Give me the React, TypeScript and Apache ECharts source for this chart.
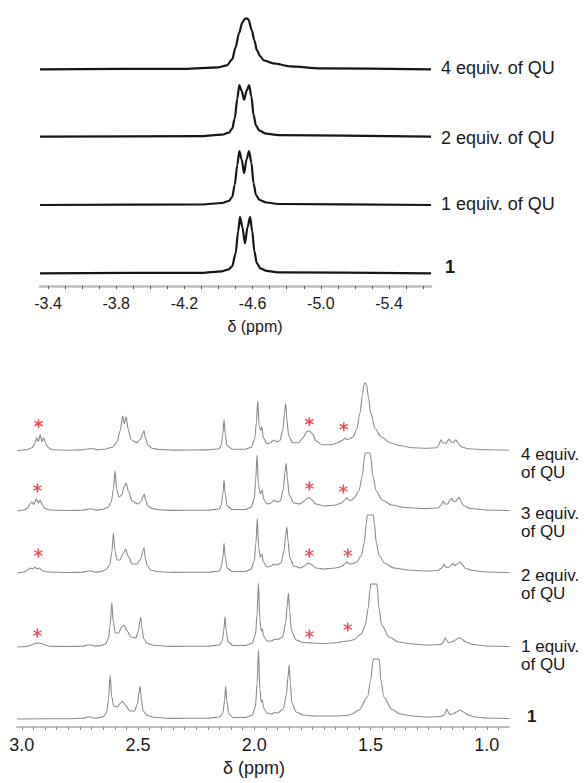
import React, { useEffect, useRef } from "react";
import * as echarts from "echarts";

// ---------- data ----------
const topTickLabels = [-3.4, -3.8, -4.2, -4.6, -5.0, -5.4];
const topMinorTicks = [-3.4, -3.5, -3.6, -3.7, -3.8, -3.9, -4.0, -4.1, -4.2, -4.3, -4.4, -4.5, -4.6, -4.7, -4.8, -4.9, -5.0, -5.1, -5.2, -5.3, -5.4, -5.5, -5.6];
const bottomTickLabels = [3.0, 2.5, 2.0, 1.5, 1.0];

const topTraceNames = ["1", "1 equiv. of QU", "2 equiv. of QU", "4 equiv. of QU"];
const bottomTraceNames = ["1", "1 equiv.\nof QU", "2 equiv.\nof QU", "3 equiv.\nof QU", "4 equiv.\nof QU"];

// top panel spectra: [ppm, intensity]
const topCmpd1 = [[-3.353,0],[-4.3,0.5],[-4.42,2],[-4.46,4],[-4.48,7],[-4.50,20],[-4.515,42],[-4.526,56.5],[-4.54,46],[-4.555,30],[-4.57,46],[-4.585,56.5],[-4.598,42],[-4.61,22],[-4.625,10],[-4.645,5],[-4.68,2.5],[-4.75,1],[-5.646,0]];
const topEq1 = [[-3.353,0],[-4.3,0.5],[-4.42,2],[-4.46,4],[-4.48,8],[-4.495,20],[-4.51,40],[-4.522,54],[-4.535,46],[-4.55,32],[-4.565,46],[-4.579,54],[-4.593,42],[-4.605,22],[-4.62,10],[-4.64,5],[-4.68,2.5],[-4.75,1],[-5.646,0]];
const topEq2 = [[-3.353,0],[-4.3,0.5],[-4.42,2],[-4.46,4],[-4.48,8],[-4.495,18],[-4.51,38],[-4.522,51.5],[-4.535,46],[-4.55,37],[-4.565,46],[-4.579,51.5],[-4.593,40],[-4.605,22],[-4.62,11],[-4.64,6],[-4.68,3],[-4.75,1.5],[-5.646,0]];
const topEq4 = [[-3.353,0],[-4.2,0.5],[-4.40,2],[-4.45,4],[-4.48,10],[-4.50,22],[-4.52,36],[-4.54,47],[-4.555,50.5],[-4.565,51],[-4.575,50],[-4.595,39],[-4.61,29],[-4.625,19],[-4.645,13],[-4.665,9],[-4.72,6],[-4.82,3],[-5.0,1],[-5.646,0]];

// bottom panel spectra: [ppm, intensity]
const botCmpd1 = [[3.02,0],[2.80,0.3],[2.74,0.8],[2.715,2],[2.705,2],[2.69,0.8],[2.66,1.5],[2.645,3],[2.635,7],[2.627,20],[2.620,44],[2.613,22],[2.605,13],[2.59,12],[2.575,16],[2.567,17.7],[2.555,14],[2.535,8],[2.515,8],[2.503,15],[2.496,26],[2.491,32.7],[2.486,20],[2.478,8],[2.46,3.5],[2.43,1.5],[2.35,0.6],[2.20,0.8],[2.15,2],[2.135,6],[2.128,18],[2.123,32.7],[2.118,18],[2.11,5],[2.09,1.5],[2.04,1.5],[2.01,3.5],[1.995,12],[1.988,35],[1.982,69],[1.976,30],[1.970,17],[1.965,19],[1.960,11],[1.945,6],[1.925,5],[1.912,6.5],[1.90,6],[1.875,10],[1.862,24],[1.855,42],[1.850,54],[1.845,36],[1.838,16],[1.82,7],[1.79,4],[1.74,3],[1.66,3],[1.60,3.5],[1.581,5],[1.55,9],[1.513,22],[1.499,39],[1.49,57],[1.487,60],[1.464,60],[1.461,57],[1.456,39],[1.442,22],[1.41,10],[1.373,5],[1.32,3],[1.25,2],[1.20,2.5],[1.182,4],[1.175,8],[1.172,10],[1.168,8],[1.16,4.5],[1.145,5],[1.13,7],[1.115,9],[1.10,7],[1.08,4],[1.05,2],[1.0,1],[0.903,0.5]];
const botEq1 = [[3.02,0],[2.98,0.5],[2.96,2],[2.945,3.5],[2.93,4],[2.915,3.5],[2.90,2],[2.88,0.8],[2.80,0.5],[2.74,0.8],[2.715,2],[2.70,2],[2.685,0.8],[2.66,1.5],[2.64,3],[2.628,8],[2.620,22],[2.613,44.3],[2.606,24],[2.598,14],[2.585,14],[2.570,20],[2.560,22],[2.550,17],[2.53,10],[2.51,9],[2.498,16],[2.493,25],[2.488,29.7],[2.483,18],[2.475,8],[2.46,3.5],[2.43,1.5],[2.35,0.6],[2.20,0.8],[2.15,2],[2.138,6],[2.131,17],[2.126,30.3],[2.121,17],[2.113,5],[2.09,1.5],[2.04,1.5],[2.01,3.5],[1.995,12],[1.988,33],[1.982,63.7],[1.976,28],[1.970,16],[1.965,18],[1.960,11],[1.945,6],[1.925,6],[1.912,8],[1.90,7.5],[1.878,10],[1.865,24],[1.858,42],[1.853,53.7],[1.848,36],[1.840,16],[1.82,7],[1.79,4.5],[1.77,4.3],[1.75,4],[1.70,3.5],[1.64,4.5],[1.615,5.5],[1.60,6],[1.59,6],[1.57,7.5],[1.54,13],[1.522,22],[1.51,39],[1.502,58],[1.499,63],[1.473,63],[1.470,58],[1.464,39],[1.452,22],[1.42,10],[1.38,5],[1.32,3],[1.25,2],[1.20,2.5],[1.188,4],[1.182,7.5],[1.179,9.3],[1.175,7.5],[1.165,4.5],[1.15,5],[1.135,7],[1.12,9.3],[1.108,8],[1.09,5],[1.06,2.5],[1.0,1],[0.903,0.5]];
const botEq2 = [[3.02,0],[2.99,1],[2.975,3],[2.963,5],[2.953,4],[2.944,6],[2.935,4],[2.925,5],[2.912,2.5],[2.89,1],[2.80,0.5],[2.74,0.8],[2.715,2],[2.70,2],[2.685,0.8],[2.66,1.5],[2.64,3],[2.622,8],[2.613,20],[2.606,40],[2.599,22],[2.59,13],[2.578,13],[2.565,19],[2.553,23.7],[2.543,17],[2.525,9],[2.505,9],[2.488,14],[2.479,22],[2.474,25.3],[2.469,15],[2.46,7],[2.445,3],[2.42,1.5],[2.35,0.6],[2.20,0.8],[2.15,2],[2.142,6],[2.135,16],[2.130,29.7],[2.125,16],[2.117,5],[2.095,1.5],[2.04,1.5],[2.015,3.5],[2.0,12],[1.993,30],[1.987,54.7],[1.981,25],[1.974,16],[1.967,19],[1.961,11],[1.945,6],[1.928,7],[1.915,9],[1.903,8],[1.885,10],[1.872,22],[1.865,38],[1.860,46],[1.855,32],[1.847,15],[1.83,7],[1.80,5],[1.785,7],[1.772,9.5],[1.763,9.7],[1.752,8],[1.735,5],[1.70,4],[1.65,5],[1.625,6.5],[1.61,9],[1.602,11.3],[1.595,9.5],[1.58,9],[1.56,11],[1.54,17],[1.527,30],[1.518,50],[1.514,58],[1.488,58],[1.484,50],[1.475,30],[1.462,17],[1.44,10],[1.40,5],[1.34,3],[1.26,2],[1.21,2.5],[1.193,5],[1.186,8],[1.184,9],[1.178,6],[1.165,5.5],[1.152,8],[1.146,9.7],[1.138,7.5],[1.125,9],[1.115,11.3],[1.105,8],[1.09,4.5],[1.06,2.5],[1.0,1],[0.903,0.5]];
const botEq3 = [[3.02,0],[2.99,1],[2.975,3],[2.965,7],[2.957,9],[2.948,6.5],[2.938,12],[2.929,8],[2.921,11],[2.912,6],[2.90,2.5],[2.88,1],[2.80,0.5],[2.74,0.8],[2.712,2],[2.695,2],[2.68,0.8],[2.655,1.5],[2.63,3.5],[2.615,9],[2.606,22],[2.599,40],[2.592,22],[2.582,14],[2.57,16],[2.56,24],[2.551,28],[2.542,20],[2.525,10],[2.50,7],[2.485,10],[2.478,15],[2.473,16.7],[2.468,11],[2.458,5],[2.44,2.5],[2.41,1.2],[2.35,0.6],[2.20,0.8],[2.15,2],[2.142,6],[2.135,17],[2.130,31],[2.125,17],[2.117,5],[2.095,1.5],[2.04,1.5],[2.015,3.5],[2.0,12],[1.994,31],[1.988,56],[1.982,26],[1.974,17],[1.966,21],[1.960,12],[1.945,7],[1.928,8],[1.915,11],[1.903,9],[1.888,10],[1.875,22],[1.868,39],[1.863,47.7],[1.858,33],[1.85,16],[1.83,8],[1.805,7],[1.785,10],[1.772,13],[1.763,13.3],[1.752,11],[1.735,7],[1.70,5],[1.65,6],[1.625,8],[1.61,11],[1.602,13.3],[1.595,11],[1.585,10.5],[1.57,13],[1.55,20],[1.535,35],[1.527,52],[1.523,58],[1.502,58],[1.498,52],[1.49,35],[1.475,20],[1.45,11],[1.41,6],[1.35,3.5],[1.27,2.5],[1.21,3],[1.196,6],[1.19,9],[1.187,10],[1.18,7],[1.168,7],[1.157,11],[1.151,12.7],[1.144,9.5],[1.132,10],[1.124,12.5],[1.119,13.7],[1.112,10],[1.10,5.5],[1.07,2.5],[1.0,1],[0.903,0.5]];
const botEq4 = [[3.02,0],[2.98,1],[2.955,3],[2.945,7],[2.936,13],[2.929,9],[2.921,16],[2.913,9],[2.906,13],[2.898,7],[2.885,3],[2.87,1],[2.80,0.5],[2.74,0.8],[2.71,2],[2.69,2],[2.675,0.8],[2.645,1.5],[2.61,3.5],[2.59,9],[2.577,20],[2.566,34.7],[2.559,27],[2.551,34],[2.543,22],[2.53,11],[2.505,8],[2.488,12],[2.479,18],[2.474,20],[2.469,13],[2.458,6],[2.44,2.5],[2.41,1.2],[2.35,0.6],[2.20,0.8],[2.15,2],[2.142,6],[2.135,17],[2.130,30.7],[2.125,17],[2.117,5],[2.095,1.5],[2.04,1.5],[2.012,3.5],[1.998,12],[1.991,28],[1.985,50],[1.979,25],[1.972,20],[1.967,24],[1.961,13],[1.945,7],[1.93,8],[1.917,10.7],[1.905,9],[1.89,10],[1.877,21],[1.870,38],[1.865,47],[1.860,32],[1.852,15],[1.835,8],[1.81,8],[1.79,13],[1.775,19],[1.763,20],[1.75,17],[1.735,10],[1.71,6],[1.67,6],[1.64,8],[1.62,10.5],[1.609,12.7],[1.60,11],[1.59,12],[1.575,14],[1.56,21],[1.545,37.7],[1.535,56],[1.528,66],[1.523,68],[1.517,66],[1.508,52],[1.499,37.7],[1.48,22],[1.455,14],[1.416,8],[1.37,5],[1.32,3],[1.26,2.5],[1.215,3],[1.205,6],[1.2,9.5],[1.197,11],[1.19,8],[1.175,7.5],[1.166,10.5],[1.161,11.7],[1.153,8.5],[1.142,8.5],[1.136,10.5],[1.132,11],[1.125,8],[1.11,4],[1.08,2],[1.0,1],[0.903,0.5]];

// asterisk marks: [ppm, height above the trace baseline], per bottom trace (1 equiv .. 4 equiv)
const starsEq1 = [[2.933,14],[1.763,13],[1.598,20]];
const starsEq2 = [[2.929,20],[1.763,20],[1.598,20]];
const starsEq3 = [[2.933,23],[1.763,25],[1.617,22]];
const starsEq4 = [[2.928,27],[1.763,29],[1.615,24]];

// ---------- layout ----------
const topTraces = [topCmpd1, topEq1, topEq2, topEq4];
const topOffsets = [12.7, 81, 149.3, 216.7];
const topLabelPos = [[445, 267], [441, 204], [441, 137.5], [441, 67.5]];
const bottomTraces = [botCmpd1, botEq1, botEq2, botEq3, botEq4];
const bottomOffsets = [8, 80, 154, 216, 276.3];
const bottomLabelPos = [[527, 716], [521, 655], [521, 584], [521, 522.5], [521, 463.3]];
const starSets = [null, starsEq1, starsEq2, starsEq3, starsEq4];

const FONT = "'Liberation Sans', Arial, sans-serif";
const STAR =
  "path://M42 0 L58 0 L58 100 L42 100 Z M2.7 31.93 L10.7 18.07 L97.3 68.07 L89.3 81.93 Z M89.3 18.07 L97.3 31.93 L10.7 81.93 L2.7 68.07 Z";

export default function App() {
  const ref = useRef<HTMLDivElement>(null);
  useEffect(() => {
    if (!ref.current) return;
    const chart = echarts.init(ref.current, null, { renderer: "svg" });

    const bottomMinor: number[] = [];
    for (let i = 0; i <= 42; i++) bottomMinor.push(Math.round((3.0 - i * 0.05) * 100) / 100);

    const series: any[] = [];
    topTraces.forEach((t, i) => {
      series.push({
        type: "line",
        xAxisIndex: 0,
        yAxisIndex: 0,
        data: t.map(([x, y]) => [x, y + topOffsets[i]]),
        showSymbol: false,
        symbol: "none",
        smooth: 0.3,
        smoothMonotone: "x",
        lineStyle: { color: "#161616", width: 2.2 },
        silent: true,
      });
    });
    bottomTraces.forEach((t, i) => {
      series.push({
        type: "line",
        xAxisIndex: 1,
        yAxisIndex: 1,
        data: t.map(([x, y]) => [x, y + bottomOffsets[i]]),
        showSymbol: false,
        symbol: "none",
        smooth: 0.3,
        smoothMonotone: "x",
        lineStyle: { color: "#8a8a8a", width: 1.1 },
        silent: true,
      });
      const st = starSets[i];
      if (st) {
        series.push({
          type: "scatter",
          xAxisIndex: 1,
          yAxisIndex: 1,
          data: st.map(([x, y]) => [x, y + bottomOffsets[i]]),
          symbol: STAR,
          symbolSize: 9,
          itemStyle: { color: "#e3212b" },
          silent: true,
        });
      }
    });

    const graphics: any[] = [];
    topTraceNames.forEach((n, i) => {
      graphics.push({
        type: "text",
        x: topLabelPos[i][0],
        y: topLabelPos[i][1],
        style: {
          text: n,
          fill: "#1a1a1a",
          fontSize: 18,
          fontFamily: FONT,
          fontWeight: n === "1" ? "bold" : "normal",
          align: "left",
          verticalAlign: "middle",
        },
      });
    });
    bottomTraceNames.forEach((n, i) => {
      graphics.push({
        type: "text",
        x: bottomLabelPos[i][0],
        y: bottomLabelPos[i][1],
        style: {
          text: n,
          fill: "#1a1a1a",
          fontSize: 17,
          lineHeight: 18,
          fontFamily: FONT,
          fontWeight: n === "1" ? "bold" : "normal",
          align: "left",
          verticalAlign: "middle",
        },
      });
    });
    graphics.push({
      type: "text",
      x: 255,
      y: 326,
      style: { text: "δ (ppm)", fill: "#1a1a1a", fontSize: 16, fontFamily: FONT, align: "center", verticalAlign: "middle" },
    });
    graphics.push({
      type: "text",
      x: 254,
      y: 768,
      style: { text: "δ (ppm)", fill: "#1a1a1a", fontSize: 18, fontFamily: FONT, align: "center", verticalAlign: "middle" },
    });

    chart.setOption({
      animation: false,
      backgroundColor: "#ffffff",
      grid: [
        { left: 40, right: 155, top: 6, bottom: 497, outerBoundsMode: "none" },
        { left: 16.7, right: 76.7, top: 370, bottom: 56, outerBoundsMode: "none" },
      ],
      xAxis: [
        {
          type: "value",
          gridIndex: 0,
          min: -5.646,
          max: -3.353,
          inverse: true,
          splitLine: { show: false },
          axisLine: { lineStyle: { color: "#bdbdbd", width: 2.5 } },
          axisTick: { customValues: topMinorTicks, length: 3, lineStyle: { color: "#555", width: 1 } },
          axisLabel: {
            customValues: topTickLabels,
            formatter: (v: number) => v.toFixed(1),
            color: "#1a1a1a",
            fontSize: 16,
            fontFamily: FONT,
            margin: 9,
          },
        },
        {
          type: "value",
          gridIndex: 1,
          min: 0.903,
          max: 3.022,
          inverse: true,
          splitLine: { show: false },
          axisLine: { lineStyle: { color: "#a8a8a8", width: 1.5 } },
          axisTick: { customValues: bottomMinor, length: 3, lineStyle: { color: "#888", width: 1 } },
          axisLabel: {
            customValues: bottomTickLabels,
            formatter: (v: number) => v.toFixed(1),
            color: "#1a1a1a",
            fontSize: 18,
            fontFamily: FONT,
            margin: 9,
          },
        },
      ],
      yAxis: [
        { type: "value", gridIndex: 0, min: 0, max: 280, show: false, splitLine: { show: false } },
        { type: "value", gridIndex: 1, min: 0, max: 357, show: false, splitLine: { show: false } },
      ],
      series,
      graphic: graphics,
    });
    return () => chart.dispose();
  }, []);
  return (
    <div
      ref={ref}
      style={{ position: "absolute", left: 0, top: 0, width: 586, height: 783 }}
    />
  );
}
